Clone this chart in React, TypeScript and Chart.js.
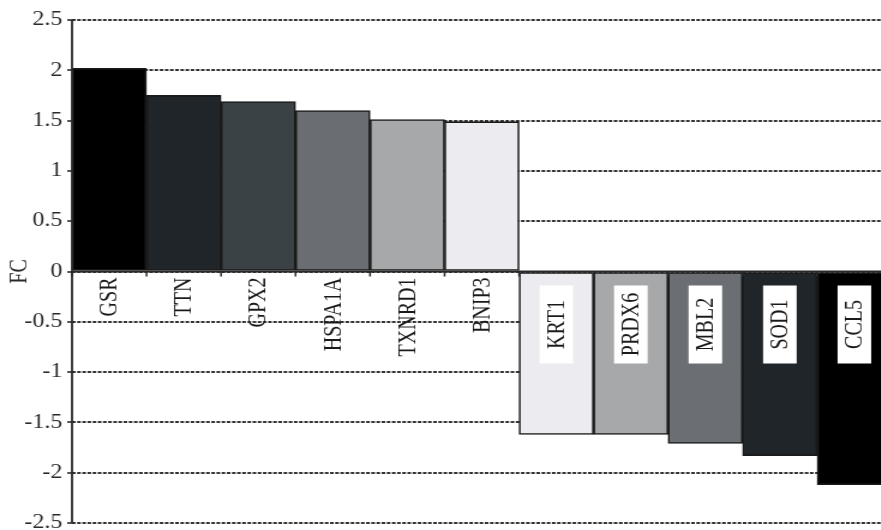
import React, { useEffect, useRef } from "react";
import { Chart, registerables } from "chart.js";

Chart.register(...registerables);

const genes = ["GSR", "TTN", "GPX2", "HSPA1A", "TXNRD1", "BNIP3", "KRT1", "PRDX6", "MBL2", "SOD1", "CCL5"];
const foldChange = [2.02, 1.75, 1.69, 1.6, 1.51, 1.49, -1.62, -1.62, -1.71, -1.83, -2.12];
const barColors = ["#000000", "#1f2528", "#3b4245", "#6a6e72", "#a6a8aa", "#ececf0", "#ececf0", "#a6a8aa", "#6b6f73", "#1f2528", "#000000"];
const yTickMin = -2.5;
const yTickMax = 2.5;
const yTickStep = 0.5;
const yTitle = "FC";

const STRETCH = 1.2;
const CANVAS_W = 760;
const CANVAS_H = 545;
const FONT = "'Liberation Serif', 'Times New Roman', serif";

const labelPlugin = {
  id: "geneLabels",
  afterDatasetsDraw(chart: any) {
    const { ctx, chartArea, scales } = chart;
    const xs = scales.x;
    const ys = scales.y;
    const y0 = ys.getPixelForValue(0);
    const step = xs.getPixelForValue(1) - xs.getPixelForValue(0);
    ctx.save();
    // y axis line
    ctx.strokeStyle = "#2a2a2a";
    ctx.lineWidth = 1.8;
    ctx.beginPath();
    ctx.moveTo(chartArea.left, chartArea.top);
    ctx.lineTo(chartArea.left, chartArea.bottom);
    ctx.stroke();
    // zero line
    ctx.beginPath();
    ctx.moveTo(chartArea.left, y0);
    ctx.lineTo(chartArea.right, y0);
    ctx.stroke();
    // category tick marks
    ctx.lineWidth = 1.5;
    for (let i = 0; i <= genes.length; i++) {
      const x = xs.getPixelForValue(0) - step / 2 + i * step;
      ctx.beginPath();
      ctx.moveTo(x, y0);
      ctx.lineTo(x, y0 + 5);
      ctx.stroke();
    }
    // labels
    ctx.font = `20px ${FONT}`;
    ctx.textBaseline = "middle";
    genes.forEach((g, i) => {
      const cx = xs.getPixelForValue(i);
      const v = foldChange[i];
      if (v >= 0) {
        ctx.save();
        ctx.translate(cx, y0 + 6);
        ctx.rotate(-Math.PI / 2);
        ctx.textAlign = "right";
        ctx.fillStyle = "#1a1a1a";
        ctx.fillText(g, 0, 1);
        ctx.restore();
      } else {
        const bw = 28;
        const bh = 78;
        const cy = y0 + 53;
        ctx.fillStyle = "#ffffff";
        ctx.fillRect(cx - bw / 2, cy - bh / 2, bw, bh);
        ctx.save();
        ctx.translate(cx, cy);
        ctx.rotate(-Math.PI / 2);
        ctx.textAlign = "center";
        ctx.fillStyle = "#1a1a1a";
        ctx.fillText(g, 0, 1);
        ctx.restore();
      }
    });
    ctx.restore();
  },
};

export default function App() {
  const ref = useRef<HTMLCanvasElement | null>(null);
  useEffect(() => {
    if (!ref.current) return;
    const chart = new Chart(ref.current, {
      type: "bar",
      data: {
        labels: genes,
        datasets: [
          {
            data: foldChange,
            backgroundColor: barColors,
            borderColor: "#1a1a1a",
            borderWidth: 1.6,
            borderSkipped: false,
            barPercentage: 1,
            categoryPercentage: 1,
          },
        ],
      },
      options: {
        responsive: false,
        devicePixelRatio: 1,
        animation: false,
        layout: { padding: { left: 0, right: 17, top: 20, bottom: 22 } },
        plugins: { legend: { display: false }, tooltip: { enabled: false } },
        scales: {
          x: { display: false },
          y: {
            min: yTickMin,
            max: yTickMax,
            ticks: {
              stepSize: yTickStep,
              color: "#2a2a2a",
              padding: 4,
              font: { family: FONT, size: 20 },
              callback: (v: any) => String(Math.round(Number(v) * 10) / 10),
            },
            grid: {
              color: "#333",
              lineWidth: 2,
              tickLength: 4,
              tickColor: "#2a2a2a",
              tickWidth: 1.6,
            },
            border: { display: false, dash: [3, 1.3] },
            title: {
              display: true,
              text: yTitle,
              color: "#2a2a2a",
              font: { family: FONT, size: 20 },
              padding: { top: 5, bottom: 0 },
            },
            afterFit: (s: any) => {
              s.width = 60;
            },
          },
        },
      },
      plugins: [labelPlugin],
    } as any);
    return () => chart.destroy();
  }, []);
  return (
    <div style={{ position: "fixed", left: 0, top: 0, width: 881, height: 530, overflow: "hidden", background: "#fff" }}>
      <canvas
        ref={ref}
        width={CANVAS_W}
        height={CANVAS_H}
        style={{ display: "block", width: CANVAS_W * STRETCH, height: CANVAS_H }}
      />
    </div>
  );
}
